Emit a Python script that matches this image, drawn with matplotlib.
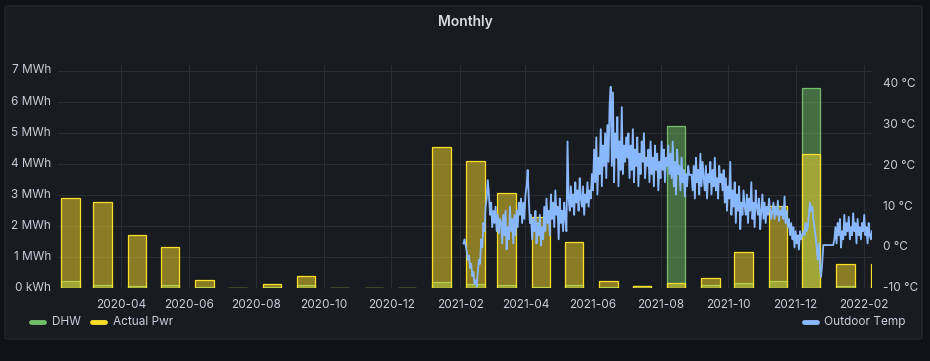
import pandas as pd
import matplotlib
matplotlib.use('Agg')
import matplotlib.pyplot as plt
import matplotlib.dates as mdates
import matplotlib.transforms as mtransforms
from matplotlib.lines import Line2D
from matplotlib.patches import FancyBboxPatch
from matplotlib.ticker import FuncFormatter, MultipleLocator

# monthly energy (MWh), one bar per month
months = ['2020-02', '2020-03', '2020-04', '2020-05', '2020-06', '2020-07', '2020-08',
          '2020-09', '2020-10', '2020-11', '2020-12', '2021-01', '2021-02', '2021-03',
          '2021-04', '2021-05', '2021-06', '2021-07', '2021-08', '2021-09', '2021-10',
          '2021-11', '2021-12', '2022-01', '2022-02']
dhw_mwh = [0.23, 0.10, 0.06, 0.10, 0.05, 0.01, 0.05, 0.10, 0.01, 0.01, 0.01, 0.20, 0.13,
           0.10, 0.03, 0.10, 0.03, 0.07, 5.21, 0.10, 0.17, 0.23, 6.45, 0.07, 0.07]
actual_pwr_mwh = [2.89, 2.77, 1.71, 1.32, 0.27, 0.02, 0.13, 0.39, 0.02, 0.02, 0.02, 4.54, 4.08,
                  3.06, 2.30, 1.48, 0.23, 0.07, 0.18, 0.32, 1.16, 2.64, 4.31, 0.77, 0.77]

# outdoor temperature (°C), daily readings from 2021-02-04
temp_start = '2021-02-04'
outdoor_temp = [
    1, 2, 0.5,
    -1, -3, -2, -5, -4, -7, -6, -9, -8, -9.6,
    -6, -3, -4, 2, 0, 6, 4, 10, 12, 16.5,
    13, 8, 11, 5, 9, 6, 10, 4, 8, 3.5, 7,
    6, 1, 8, 3, 9, -0.5, 5, 2, 10, 4, 7, 1, 8, 3, 9, 5, 11,
    8, 12, 6, 11, 7, 13, 15, 19,
    12, 6, 8, 2, 7, 4, 9, 1, 6, 3, 8, 0.5, 5, 2,
    10, 4, 12, 6, 9, 3, 13, 7, 11, 5, 14, 8, 10, 2, 12, 6, 9, 4, 11, 7, 4,
    26,
    12, 9, 15, 10, 13, 8, 16, 11, 14, 9, 17, 12, 10, 15, 8, 13, 11, 16, 10, 14, 12,
    18, 14, 24, 16, 27, 13, 22, 18, 29, 15, 25, 20, 28, 17, 30, 21, 35, 39.4,
    20, 38, 16, 28, 22, 32, 15, 26, 19, 34.4, 18, 25, 21, 27,
    22, 28, 17, 25, 19, 29, 16, 24, 20, 27, 15, 23, 18, 26, 21, 28, 17, 22,
    20, 24, 16, 26, 18, 22, 15, 25, 19, 23, 14, 21, 17, 26, 19, 24, 16, 22, 20, 25, 18,
    23, 17, 26, 15, 21, 13, 24, 18, 20, 14, 22, 16, 19, 12.5, 18, 15, 20,
    17.8, 17.8, 17.8,
    14, 20, 12, 22, 16, 19, 13, 23, 15, 21, 17, 14, 20, 12, 18, 16, 21, 13, 19, 15, 22, 14,
    17, 12, 20, 16, 18,
    14, 19, 11, 17, 9, 15, 12, 21, 8, 14, 10, 16, 6, 13, 9, 15, 4.5, 11, 8, 14, 10,
    8, 13, 6, 12, 9, 16, 7, 11, 5, 14, 10, 8, 12, 4.5, 9, 13, 7, 11, 6, 10, 8, 12, 9, 7,
    9, 11, 7, 10, 8, 11.5, 6.5, 9, 8, 10, 7, 12.5, 6, 9, 5,
    7, 3, 6, 2, 5, 0, 4, 1, 3, -0.5, 4, 2, 3,
    4, 3, 6, 4, 5,
    8, 11, 9, 10, 7, 5,
    3, 0, -3, 1, -5, -7.2, -4,
    0.6, 0.6, 0.6, 0.6, 0.6, 0.6, 0.6, 0.6, 0.6, 0.6,
    2, 5, 1, 6, 3, 7, 0, 4, 2, 8, 3, 6, 4, 7.5, 2, 5, 3, 8.4, 4, 6, 1, 7, 3, 5, 2, 6, 4,
    8, 3, 5, 1, 6, 3, 2, 4,
]

W, H = 930, 361
TXT = '#ccccdc'
GRID = '#2a2d32'
GREEN, YELLOW, BLUE = '#73BF69', '#FADE2A', '#8AB8FF'


def fx(px):
    return px / W


def fy(py):
    return 1 - py / H


plt.rcParams['font.family'] = ['Inter', 'DejaVu Sans']
fig = plt.figure(figsize=(W / 100, H / 100), dpi=100, facecolor='#111217')
panel = FancyBboxPatch((fx(5), fy(339)), fx(922) - fx(5), fy(6) - fy(339),
                       boxstyle='round,pad=0,rounding_size=0.004',
                       transform=fig.transFigure, facecolor='#181b1f',
                       edgecolor='#25282d', lw=1, zorder=-10)
fig.patches.append(panel)

top, bottom = 65, 288.3
ax = fig.add_axes([fx(58), fy(bottom), fx(872) - fx(58), (bottom - top) / H])
ax.set_facecolor('none')

x = mdates.date2num(pd.to_datetime(months) + pd.Timedelta(days=14))
ax.bar(x, dhw_mwh, width=16.6, color=GREEN, alpha=0.5, lw=0, zorder=2)
ax.bar(x, dhw_mwh, width=16.6, fill=False, edgecolor=GREEN, lw=0.9, zorder=2)
ax.bar(x, actual_pwr_mwh, width=16.6, color=YELLOW, alpha=0.5, lw=0, zorder=3)
ax.bar(x, actual_pwr_mwh, width=16.6, fill=False, edgecolor=YELLOW, lw=0.9, zorder=3)

ax.set_xlim(mdates.date2num(pd.Timestamp('2020-02-03 19:00')),
            mdates.date2num(pd.Timestamp('2022-02-08')))
ax.set_ylim(0, 7.18)
ax.yaxis.set_major_locator(MultipleLocator(1))
ax.yaxis.set_major_formatter(FuncFormatter(lambda v, p: '0 kWh' if v == 0 else f'{v:.0f} MWh'))
ax.xaxis.set_major_locator(mdates.MonthLocator(bymonth=[2, 4, 6, 8, 10, 12]))
ax.xaxis.set_major_formatter(mdates.DateFormatter('%Y-%m'))
ax.tick_params(axis='both', length=0, colors=TXT, labelsize=8.5)
ax.tick_params(axis='x', pad=8)
ax.tick_params(axis='y', pad=5)
ax.grid(True, color=GRID, lw=0.8, zorder=0)
ax.set_axisbelow(True)
for s in ax.spines.values():
    s.set_visible(False)

ax2 = ax.twinx()
temp_dates = pd.date_range(temp_start, periods=len(outdoor_temp), freq='D')
ax2.plot(mdates.date2num(temp_dates), outdoor_temp, color=BLUE, lw=1.3, zorder=4)
ax2.set_ylim(-10, 44.73)
ax2.set_yticks([-10, 0, 10, 20, 30, 40])
ax2.yaxis.set_major_formatter(FuncFormatter(lambda v, p: f'{v:.0f} °C'))
ax2.tick_params(axis='y', length=0, colors=TXT, labelsize=8.5, pad=8)
for s in ax2.spines.values():
    s.set_visible(False)

# nudge y labels up a little, as in the reference
lift = mtransforms.ScaledTranslation(0, 1.6 / 100, fig.dpi_scale_trans)
for lab in ax.get_yticklabels() + ax2.get_yticklabels():
    lab.set_transform(lab.get_transform() + lift)

fig.text(fx(465), fy(22), 'Monthly', ha='center', va='center', color='#d8d9e3',
         fontsize=10, fontweight='semibold')

# legend
legend_items = [(31, 52, 'DHW', GREEN), (92, 113, 'Actual Pwr', YELLOW),
                (804, 824, 'Outdoor Temp', BLUE)]
for x0, tx, label, col in legend_items:
    fig.add_artist(Line2D([fx(x0), fx(x0 + 13)], [fy(322), fy(322)], color=col, lw=3.5,
                          solid_capstyle='round', transform=fig.transFigure))
    fig.text(fx(tx), fy(322), label, ha='left', va='center', color=TXT, fontsize=8.5)

fig.savefig('out.png', dpi=100, facecolor=fig.get_facecolor())
